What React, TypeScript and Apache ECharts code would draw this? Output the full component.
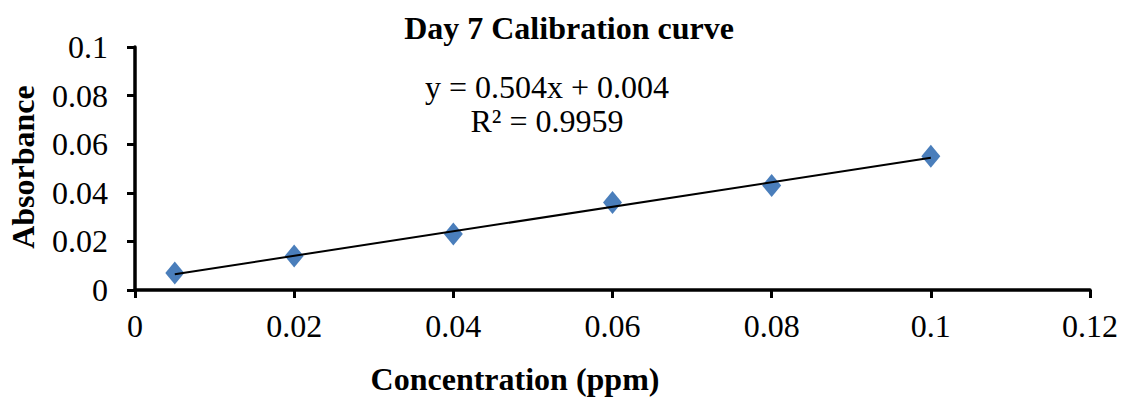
import React, { useEffect, useRef } from "react";
import * as echarts from "echarts";

const concentration = [0.005, 0.02, 0.04, 0.06, 0.08, 0.1];
const absorbance = [0.007, 0.014, 0.023, 0.036, 0.043, 0.055];
const slope = 0.504;
const intercept = 0.004;
const rSquared = "0.9959";
const chartTitle = "Day 7 Calibration curve";
const xTitle = "Concentration (ppm)";
const yTitle = "Absorbance";

const FONT = "'Liberation Serif', 'Times New Roman', serif";

export default function App() {
  const ref = useRef<HTMLDivElement>(null);
  useEffect(() => {
    if (!ref.current) return;
    const chart = echarts.init(ref.current, undefined, { renderer: "svg" });
    const points = concentration.map((x, i) => [x, absorbance[i]]);
    const x0 = concentration[0];
    const x1 = concentration[concentration.length - 1];
    const trend = [
      [x0, slope * x0 + intercept],
      [x1, slope * x1 + intercept],
    ];
    chart.setOption({
      animation: false,
      backgroundColor: "#ffffff",
      grid: { left: 135, right: 33, top: 47, bottom: 108, containLabel: false },
      xAxis: {
        type: "value",
        min: 0,
        max: 0.12,
        interval: 0.02,
        axisLine: { show: true, onZero: false, lineStyle: { color: "#000", width: 3.5 } },
        axisTick: { show: true, length: 8, lineStyle: { color: "#000", width: 3 } },
        splitLine: { show: false },
        axisLabel: { color: "#000", fontFamily: FONT, fontSize: 32, margin: 20 },
      },
      yAxis: {
        type: "value",
        min: 0,
        max: 0.1,
        interval: 0.02,
        axisLine: { show: true, onZero: false, lineStyle: { color: "#000", width: 3.5 } },
        axisTick: { show: true, length: 8, lineStyle: { color: "#000", width: 3 } },
        splitLine: { show: false },
        axisLabel: { color: "#000", fontFamily: FONT, fontSize: 32, margin: 27 },
      },
      series: [
        {
          type: "line",
          data: trend,
          symbol: "none",
          lineStyle: { color: "#000", width: 2 },
          z: 3,
        },
        {
          type: "scatter",
          data: points,
          symbol: "diamond",
          symbolSize: [19, 23],
          itemStyle: { color: "#4A7EBB", opacity: 1 },
          z: 2,
        },
      ],
      graphic: [
        {
          type: "text",
          x: 569,
          y: 28,
          style: {
            text: chartTitle,
            fontFamily: FONT,
            fontSize: 32,
            fontWeight: "bold",
            fill: "#000",
            textAlign: "center",
            textVerticalAlign: "middle",
          },
        },
        {
          type: "text",
          x: 515,
          y: 379,
          style: {
            text: xTitle,
            fontFamily: FONT,
            fontSize: 32,
            fontWeight: "bold",
            fill: "#000",
            textAlign: "center",
            textVerticalAlign: "middle",
          },
        },
        {
          type: "text",
          x: 23,
          y: 167,
          rotation: Math.PI / 2,
          style: {
            text: yTitle,
            fontFamily: FONT,
            fontSize: 32,
            fontWeight: "bold",
            fill: "#000",
            textAlign: "center",
            textVerticalAlign: "middle",
          },
        },
        {
          type: "text",
          x: 547,
          y: 87,
          style: {
            text: `y = ${slope}x + ${intercept}`,
            fontFamily: FONT,
            fontSize: 32,
            fill: "#000",
            textAlign: "center",
            textVerticalAlign: "middle",
          },
        },
        {
          type: "text",
          x: 547,
          y: 121,
          style: {
            text: `R² = ${rSquared}`,
            fontFamily: FONT,
            fontSize: 32,
            fill: "#000",
            textAlign: "center",
            textVerticalAlign: "middle",
          },
        },
      ],
    });
    return () => chart.dispose();
  }, []);
  return <div ref={ref} style={{ width: 1123, height: 398, position: "absolute", left: 0, top: 0 }} />;
}
